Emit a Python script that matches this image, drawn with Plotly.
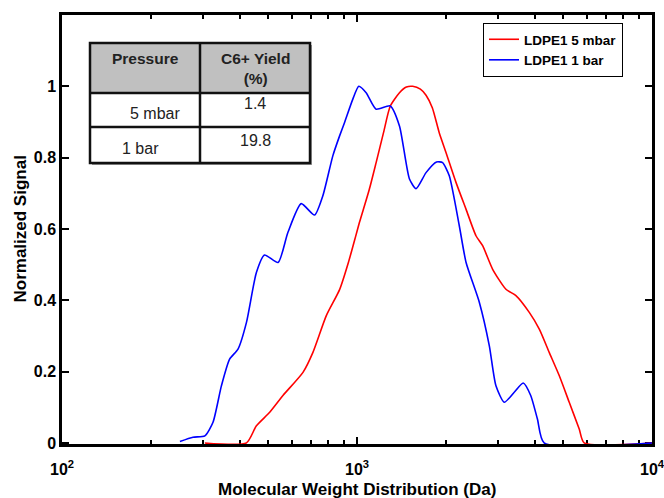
import plotly.graph_objects as go

# ---------------- data ----------------
red_name = "LDPE1 5 mbar"
red_x = [305, 422, 456, 506, 561, 656, 709, 787, 873, 935, 990, 1019, 1100, 1161, 1230, 1296, 1393, 1470,
         1545, 1640, 1714, 1800, 1900, 2004, 2167, 2343, 2531, 2666, 2883, 3198, 3457, 3837, 4149, 4483,
         4847, 5241, 5666, 5888, 10000]
red_y = [0, 0, 0.048, 0.086, 0.133, 0.198, 0.254, 0.357, 0.43, 0.506, 0.58, 0.618, 0.71, 0.786, 0.87, 0.944,
         0.982, 0.998, 1.0, 0.992, 0.975, 0.94, 0.87, 0.814, 0.730, 0.655, 0.581, 0.553, 0.487, 0.431, 0.413,
         0.366, 0.319, 0.254, 0.189, 0.114, 0.039, 0, 0]

blue_name = "LDPE1 1 bar"
blue_x = [251, 278, 305, 325, 347, 370, 395, 422, 456, 486, 540, 583, 647, 718, 766, 828, 873, 907, 968,
          1014, 1074, 1161, 1296, 1393, 1506, 1586, 1714, 1860, 1950, 2055, 2222, 2343, 2599, 2808, 2958,
          3157, 3412, 3659, 3880, 4089, 4308, 10000]
blue_y = [0.004, 0.016, 0.02, 0.058, 0.16, 0.235, 0.263, 0.338, 0.478, 0.527, 0.506, 0.59, 0.671, 0.639,
          0.693, 0.805, 0.861, 0.898, 0.964, 1.0, 0.982, 0.936, 0.945, 0.889, 0.74, 0.713, 0.758, 0.788,
          0.786, 0.749, 0.609, 0.506, 0.394, 0.273, 0.16, 0.114, 0.142, 0.168, 0.133, 0.067, 0, 0]

y_ticks = [0, 0.2, 0.4, 0.6, 0.8, 1]
y_ticktext = ["0", "0.2", "0.4", "0.6", "0.8", "1"]
x_major = [100, 1000, 10000]
x_ticktext = ["10<sup>2</sup>", "10<sup>3</sup>", "10<sup>4</sup>"]
x_minor = [200, 300, 400, 500, 600, 700, 800, 900, 2000, 3000, 4000, 5000, 6000, 7000, 8000, 9000]

table_header = ["Pressure", "C6+ Yield<br>(%)"]
table_pressure = ["5 mbar", "1 bar"]
table_yield = ["1.4", "19.8"]

x_title = "Molecular Weight Distribution (Da)"
y_title = "Normalized Signal"

# ---------------- figure ----------------
FONT = "Liberation Sans, Arial, sans-serif"
W, H = 664, 498
ML, MR, MT, MB = 62, 12, 15, 54
PW, PH = W - ML - MR, H - MT - MB


def px(x):
    return (x - ML) / PW


def py(y):
    return (H - MB - y) / PH


fig = go.Figure()
fig.add_trace(go.Scatter(x=red_x, y=red_y, mode="lines", name=red_name, cliponaxis=False,
                         line=dict(color="#ff0000", width=1.6, shape="spline", smoothing=0.6)))
fig.add_trace(go.Scatter(x=blue_x, y=blue_y, mode="lines", name=blue_name, cliponaxis=False,
                         line=dict(color="#0000ff", width=1.6, shape="spline", smoothing=0.6)))

fig.update_layout(
    width=W, height=H,
    margin=dict(l=ML, r=MR, t=MT, b=MB, autoexpand=False),
    paper_bgcolor="white", plot_bgcolor="white",
    font=dict(family=FONT, color="black", size=15),
    showlegend=True,
    legend=dict(x=px(623), xanchor="right", y=py(23), yanchor="top",
                bordercolor="black", borderwidth=1, bgcolor="white",
                font=dict(family=FONT, size=13.5, weight="bold", color="black"),
                tracegroupgap=0, itemwidth=30),
)

fig.update_xaxes(
    type="log", range=[2, 4], automargin=False, layer="below traces",
    tickmode="array", tickvals=x_major, ticktext=x_ticktext, ticklabeloverflow="allow",
    ticklabelstandoff=9,
    ticks="inside", ticklen=7, tickwidth=2, tickcolor="black",
    minor=dict(ticks="inside", tickvals=x_minor, ticklen=4, tickwidth=2, tickcolor="black"),
    showline=True, linecolor="black", linewidth=2.5, mirror="ticks",
    showgrid=False, zeroline=False,
    tickfont=dict(family=FONT, size=16, weight="bold"),
)
fig.update_yaxes(
    range=[-0.003, 1.2], automargin=False, layer="below traces",
    tickmode="array", tickvals=y_ticks, ticktext=y_ticktext, ticklabeloverflow="allow",
    ticks="inside", ticklen=7, tickwidth=2, tickcolor="black",
    showline=True, linecolor="black", linewidth=2.5, mirror="ticks",
    showgrid=False, zeroline=False,
    tickfont=dict(family=FONT, size=16, weight="bold"),
)

# ---------------- inset table ----------------
tx0, tx1, tx2 = 90, 200, 310
ty0, ty1, ty2, ty3 = 43, 93, 127, 163
shapes = []
shapes.append(dict(type="rect", xref="paper", yref="paper", x0=px(tx0 + 2), x1=px(tx2 + 2),
                   y0=py(ty3 + 2), y1=py(ty0 + 2), line=dict(width=0), fillcolor="#9a9a9a"))
shapes.append(dict(type="rect", xref="paper", yref="paper", x0=px(tx0), x1=px(tx2),
                   y0=py(ty3), y1=py(ty0), line=dict(width=0), fillcolor="white"))
shapes.append(dict(type="rect", xref="paper", yref="paper", x0=px(tx0), x1=px(tx2),
                   y0=py(ty1), y1=py(ty0), line=dict(width=0), fillcolor="#c0c0c0"))
for yy in (ty1, ty2):
    shapes.append(dict(type="line", xref="paper", yref="paper", x0=px(tx0), x1=px(tx2),
                       y0=py(yy), y1=py(yy), line=dict(color="#111111", width=2.5)))
shapes.append(dict(type="line", xref="paper", yref="paper", x0=px(tx1), x1=px(tx1),
                   y0=py(ty3), y1=py(ty0), line=dict(color="#111111", width=2.5)))
shapes.append(dict(type="rect", xref="paper", yref="paper", x0=px(tx0), x1=px(tx2),
                   y0=py(ty3), y1=py(ty0), line=dict(color="#111111", width=2.5)))
fig.update_layout(shapes=shapes)

ann = []
hdr_font = dict(family=FONT, size=15.5, weight="bold", color="#222222")
cell_font = dict(family=FONT, size=16, color="#222222")
ann.append(dict(text=table_header[0], x=px((tx0 + tx1) / 2), y=py(58), font=hdr_font))
ann.append(dict(text=table_header[1], x=px((tx1 + tx2) / 2), y=py(68), font=hdr_font))
ann.append(dict(text=table_pressure[0], x=px(155), y=py(113), font=cell_font))
ann.append(dict(text=table_pressure[1], x=px(140), y=py(148), font=cell_font))
ann.append(dict(text=table_yield[0], x=px((tx1 + tx2) / 2), y=py(104), font=cell_font))
ann.append(dict(text=table_yield[1], x=px((tx1 + tx2) / 2), y=py(140), font=cell_font))
title_font = dict(family=FONT, size=17, weight="bold", color="black")
ann.append(dict(text=x_title, x=px((ML + W - MR) / 2), y=py(489), font=title_font))
ann.append(dict(text=y_title, x=px(20), y=py((MT + H - MB) / 2), font=title_font, textangle=-90))
for a in ann:
    a.update(xref="paper", yref="paper", showarrow=False, xanchor="center", yanchor="middle")
fig.update_layout(annotations=ann)

fig.write_html("out.html", config={"displayModeBar": False},
               post_script="document.body.style.margin='0';")
